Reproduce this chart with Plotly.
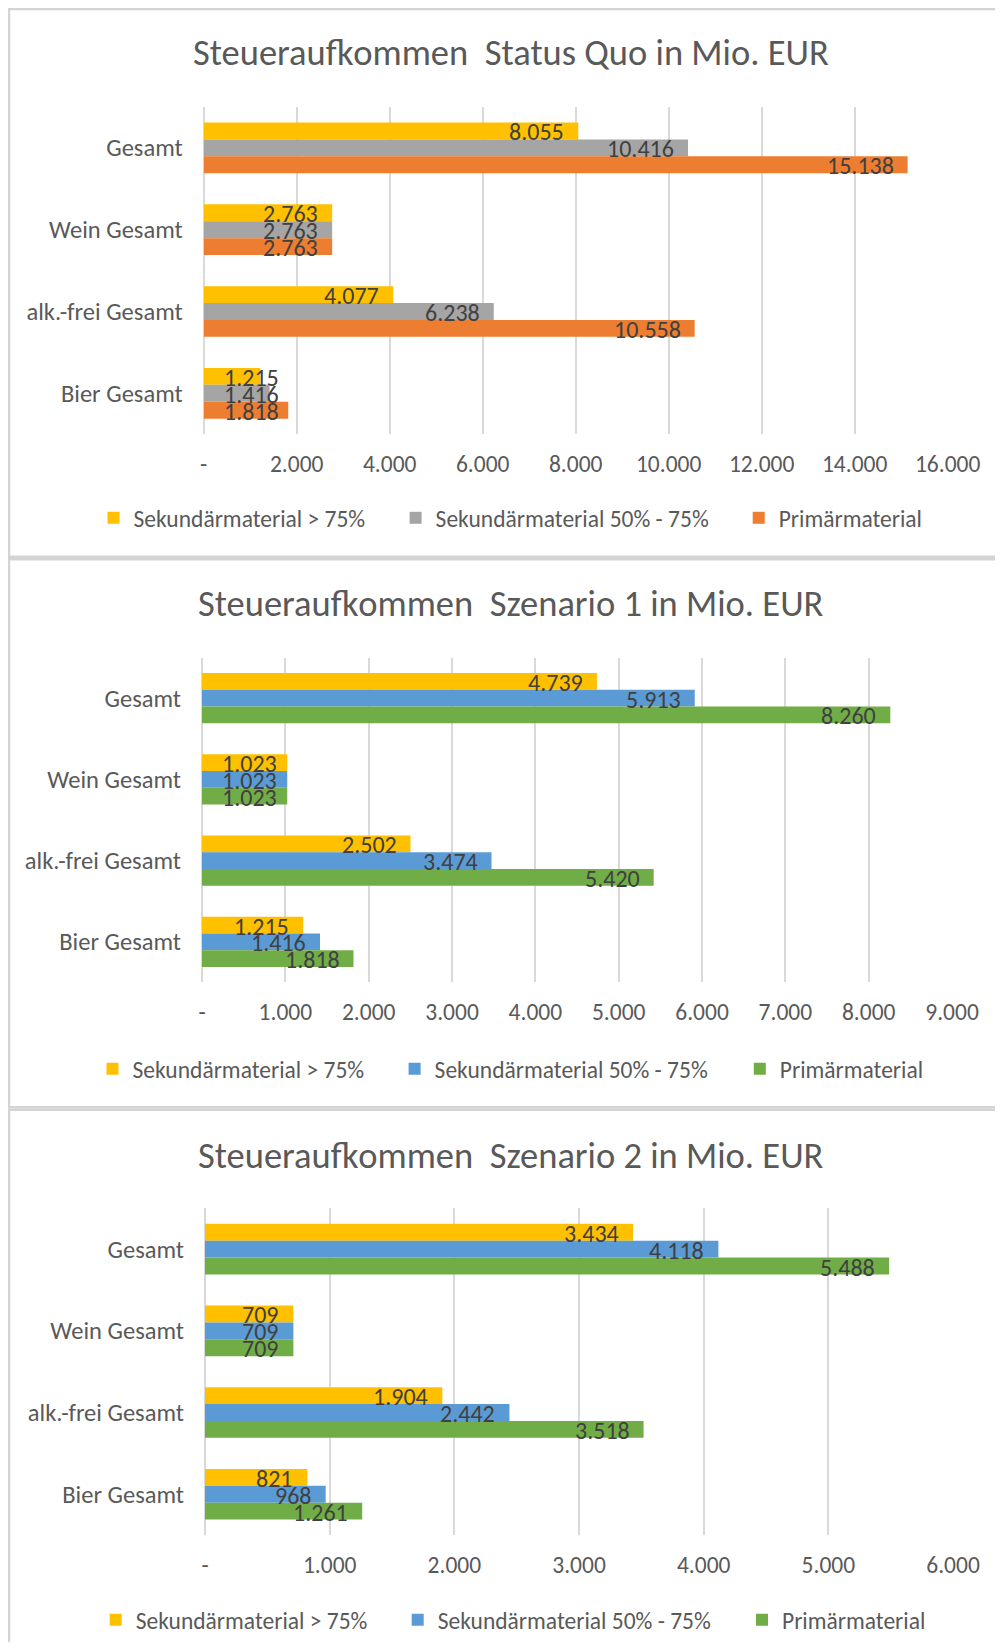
import plotly.graph_objects as go

# categories from top to bottom, as shown in the chart
categories = ["Gesamt", "Wein Gesamt", "alk.-frei Gesamt", "Bier Gesamt"]
series_names = ["Sekundärmaterial > 75%", "Sekundärmaterial 50% - 75%", "Primärmaterial"]

# Status Quo
status_quo_sek75 = [8055, 2763, 4077, 1215]
status_quo_sek50 = [10416, 2763, 6238, 1416]
status_quo_primaer = [15138, 2763, 10558, 1818]

# Szenario 1
szenario1_sek75 = [4739, 1023, 2502, 1215]
szenario1_sek50 = [5913, 1023, 3474, 1416]
szenario1_primaer = [8260, 1023, 5420, 1818]

# Szenario 2
szenario2_sek75 = [3434, 709, 1904, 821]
szenario2_sek50 = [4118, 709, 2442, 968]
szenario2_primaer = [5488, 709, 3518, 1261]

titles = ["Steueraufkommen  Status Quo in Mio. EUR",
          "Steueraufkommen  Szenario 1 in Mio. EUR",
          "Steueraufkommen  Szenario 2 in Mio. EUR"]
x_max = [16000, 9000, 6000]
x_step = [2000, 1000, 1000]

colors_sq = ["#FFC000", "#A5A5A5", "#ED7D31"]
colors_sz = ["#FFC000", "#5B9BD5", "#70AD47"]

# page is 1003x1650, the html body keeps its 8px margin
OFF = 8
W, H = 1003 - 2 * OFF, 1650 - 2 * OFF
FONT = "Carlito, Lato, sans-serif"
TXT = "#595959"
LBL = "#404040"
BARGAP = 0.38


def fx(px):
    # page pixel -> paper fraction
    return (px - OFF) / W


def fy(px):
    return 1 - (px - OFF) / H


def de_num(v):
    # german thousands separator, "-" for zero like excel's accounting format
    if v == 0:
        return "-"
    return f"{v:,}".replace(",", ".")


# page-pixel boxes for each panel: border top/bottom, plot area, legend row
panels = [
    dict(top=9, bottom=557, plot=(203.7, 947.7, 107, 434.5), title_y=53, legend_y=518,
         legend_x=[111.5, 413.6, 756.7], colors=colors_sq,
         data=[status_quo_sek75, status_quo_sek50, status_quo_primaer]),
    dict(top=559.5, bottom=1108, plot=(202, 952, 658, 983), title_y=604, legend_y=1069,
         legend_x=[110.5, 412.6, 757.8], colors=colors_sz,
         data=[szenario1_sek75, szenario1_sek50, szenario1_primaer]),
    dict(top=1110.5, bottom=1700, plot=(205, 953, 1209, 1536), title_y=1156, legend_y=1621,
         legend_x=[113.7, 415.7, 760], colors=colors_sz,
         data=[szenario2_sek75, szenario2_sek50, szenario2_primaer]),
]

fig = go.Figure()
annotations = []
shapes = []

for p, pan in enumerate(panels):
    n = "" if p == 0 else str(p + 1)
    x0, x1, y0, y1 = pan["plot"]
    lg = "legend" + n
    widths = [pan["legend_x"][1] - pan["legend_x"][0] - 45,
              pan["legend_x"][2] - pan["legend_x"][1] - 45, 0]
    for j, vals in enumerate(pan["data"]):
        fig.add_trace(go.Bar(
            x=vals, y=categories, orientation="h", name=series_names[j],
            marker=dict(color=pan["colors"][j], line=dict(width=0)),
            xaxis="x" + n, yaxis="y" + n, legend=lg,
            legendwidth=widths[j] if widths[j] else None,
            hoverinfo="x+y+name",
        ))

    # data labels (inside end, pushed right when the bar is too short)
    px_per_unit = (x1 - x0) / x_max[p]
    bar_px = (y1 - y0) / len(categories) * (1 - BARGAP) / 3
    for j, vals in enumerate(pan["data"]):
        for c, v in zip(categories, vals):
            t = de_num(v)
            tw = sum(6 if ch == "." else 13.9 for ch in t)
            bar_len = v * px_per_unit
            if bar_len - 14 - tw < 21:
                ax, anchor, xs = 0, "left", 18
            else:
                ax, anchor, xs = v, "right", -12
            annotations.append(dict(
                x=ax, y=c, xref="x" + n, yref="y" + n, text=t, showarrow=False,
                xanchor=anchor, yanchor="middle", xshift=xs,
                yshift=(1 - j) * bar_px - 1,
                font=dict(family=FONT, size=24, color=LBL),
            ))

    tickvals = list(range(0, x_max[p] + 1, x_step[p]))
    fig.update_layout({
        "xaxis" + n: dict(
            domain=[fx(x0), fx(x1)], anchor="y" + n, range=[0, x_max[p]],
            tickvals=tickvals, ticktext=[de_num(v) for v in tickvals],
            showgrid=True, gridcolor="#D9D9D9", gridwidth=1.5,
            zeroline=True, zerolinecolor="#D9D9D9", zerolinewidth=1.5,
            showline=False, ticks="", ticklabelstandoff=13, automargin=False,
            tickfont=dict(family=FONT, size=23.5, color=TXT), fixedrange=True,
        ),
        "yaxis" + n: dict(
            domain=[fy(y1), fy(y0)], anchor="x" + n, type="category",
            categoryorder="array", categoryarray=categories, autorange="reversed",
            showgrid=False, showline=False, zeroline=False, ticks="",
            ticklabelstandoff=20, automargin=False,
            tickfont=dict(family=FONT, size=24.5, color=TXT), fixedrange=True,
        ),
        lg: dict(
            orientation="h",
            x=fx(pan["legend_x"][0] - 18), xanchor="left",
            y=fy(pan["legend_y"]), yanchor="middle", bgcolor="rgba(0,0,0,0)",
            font=dict(family=FONT, size=23.5, color=TXT), itemclick=False,
        ),
    })

    annotations.append(dict(
        x=fx(511), y=fy(pan["title_y"]), xref="paper", yref="paper",
        text=titles[p], showarrow=False, xanchor="center", yanchor="middle",
        font=dict(family=FONT, size=36.5, color=TXT),
    ))
    # chart area frame (each panel is its own excel chart)
    shapes.append(dict(
        type="rect", xref="paper", yref="paper", x0=fx(9), x1=fx(1030),
        y0=fy(pan["bottom"]), y1=fy(pan["top"]),
        line=dict(color="#D4D4D4", width=2.5), fillcolor="rgba(0,0,0,0)", layer="below",
    ))

fig.update_layout(
    width=W, height=H, margin=dict(l=0, r=0, t=0, b=0),
    paper_bgcolor="white", plot_bgcolor="white",
    barmode="group", bargap=BARGAP, bargroupgap=0,
    annotations=annotations, shapes=shapes,
    font=dict(family=FONT, color=TXT),
)

fig.write_html("out.html")
